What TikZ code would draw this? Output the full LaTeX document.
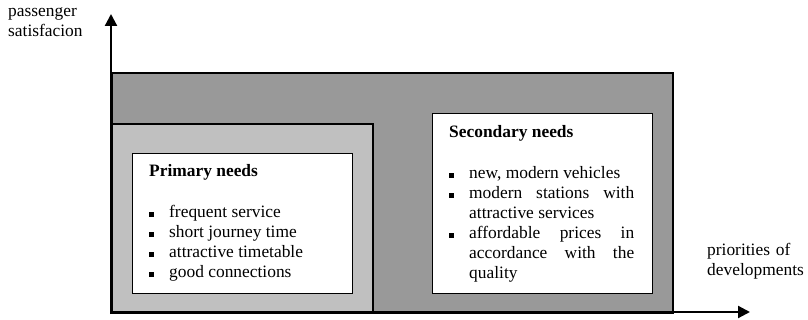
\documentclass[tikz,border=0pt]{standalone}
\usepackage{fontspec}
\setmainfont{Liberation Serif}
\usetikzlibrary{arrows.meta}

\definecolor{outergray}{RGB}{153,153,153}
\definecolor{innergray}{RGB}{192,192,192}

% one bulleted entry with a hanging indent, never hyphenated
\newcommand\needitem[1]{\hyphenpenalty=10000\relax\exhyphenpenalty=10000\relax
  \tolerance=10000\relax
  \hangindent=20pt\hangafter=1\noindent
  \makebox[20pt][l]{\raisebox{1pt}{\rule{4.5pt}{4.5pt}}}#1\par}

\tikzset{
  panel/.style={draw=black, line width=1.6pt, anchor=north west, inner sep=0pt},
  axis/.style={draw=black, line width=2.2pt, -{Triangle[length=12pt,width=12pt]}},
  needs/.style={anchor=base west, inner sep=0pt, text width=185pt, align=justify,
    font=\fontsize{17.4}{20}\selectfont},
  axislabel/.style={anchor=base west, inner sep=0pt, text width=100pt, align=left,
    font=\fontsize{17.4}{20}\selectfont},
}

\begin{document}
\begin{tikzpicture}[x=1pt, y=-1pt]
\useasboundingbox (0,0) rectangle (808,320);

% nested panels
\node[panel, fill=outergray, minimum width=561pt, minimum height=240pt] (outer) at (111,72) {};
\node[panel, fill=innergray, minimum width=261pt, minimum height=189pt] (inner) at (111,123) {};
\node[panel, fill=white, line width=1.3pt, minimum width=220pt, minimum height=140pt] (primbox) at (132,153) {};
\node[panel, fill=white, line width=1.3pt, minimum width=220pt, minimum height=180pt] (secbox) at (432,113) {};

% box contents
\node[needs] (primtext) at (149,177) {%
  \noindent\textbf{Primary needs}\par\vskip21pt
  \needitem{frequent service}
  \needitem{short journey time}
  \needitem{attractive timetable}
  \needitem{good connections}};
\node[needs] (sectext) at (449,138) {%
  \noindent\textbf{Secondary needs}\par\vskip21pt
  \needitem{new, modern vehicles}
  \needitem{modern stations with\linebreak attractive services}
  \needitem{affordable prices in\linebreak accordance with the\linebreak quality}};

% axes
\coordinate (O) at (111,312);
\coordinate (ytip) at (111,14);
\coordinate (xtip) at (750,312);
\draw[axis] (111,314) -- (ytip);
\draw[axis] (O) -- (xtip);

% axis labels
\node[axislabel] (ylabel) at (8,17) {passenger\\satisfacion};
\node[axislabel] (xlabel) at (707,256) {priorities of\\developments};
\end{tikzpicture}
\end{document}
